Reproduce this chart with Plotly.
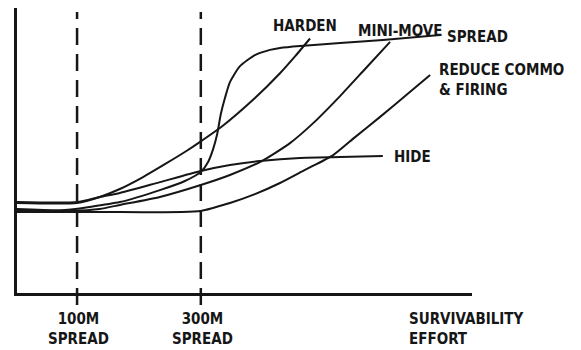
import plotly.graph_objects as go

# Survivability (0-100) versus survivability effort (0-100) for each measure
harden_x = [0, 13.2, 18.2, 22.6, 27.7, 32.5, 37.4, 40.4, 45.1, 52.3, 57.8, 61.1, 64.4]
harden_y = [31.6, 31.6, 33.7, 36.5, 40.7, 45.2, 50.0, 53.2, 58.5, 68.4, 77.1, 83.0, 89.3]

hide_x = [0, 13.2, 18.2, 22.6, 31.4, 40.4, 46.8, 53.4, 62.2, 71.0, 80.4]
hide_y = [31.9, 31.9, 33.7, 35.1, 38.9, 42.8, 44.9, 46.3, 47.4, 47.7, 48.1]

spread_x = [0, 10.5, 16.0, 22.6, 31.4, 36.9, 40.4, 42.0, 43.1, 44.0, 44.8,
            45.7, 46.8, 49.0, 52.3, 55.6, 57.8, 62.2, 71.0, 80.4, 93.0]
spread_y = [29.5, 29.1, 30.2, 31.9, 36.1, 39.3, 42.5, 46.0, 50.5, 55.8, 62.8,
            68.4, 74.0, 79.6, 83.5, 85.3, 86.0, 86.7, 87.7, 88.8, 90.5]

minimove_x = [0, 11.6, 18.2, 22.6, 31.4, 40.4, 46.8, 53.8, 60.0, 65.1, 71.0, 76.5, 82.0]
minimove_y = [28.8, 28.8, 29.5, 30.9, 33.7, 37.9, 41.4, 46.3, 52.6, 59.6, 69.1, 78.6, 88.1]

reduce_x = [0, 18.2, 40.4, 46.8, 52.3, 57.8, 63.3, 69.5, 74.3, 79.8, 85.3, 90.8]
reduce_y = [28.4, 28.4, 28.8, 31.6, 34.7, 38.6, 43.2, 48.4, 54.7, 61.8, 69.1, 76.5]

series = [
    ("HARDEN", harden_x, harden_y),
    ("HIDE", hide_x, hide_y),
    ("SPREAD", spread_x, spread_y),
    ("MINI-MOVE", minimove_x, minimove_y),
    ("REDUCE COMMO & FIRING", reduce_x, reduce_y),
]

# Reference spreads marked along the effort axis
spread_marks = [13.2, 40.4]
spread_mark_labels = ["100M<br>SPREAD", "300M<br>SPREAD"]

ink = "#161616"
font_stack = "Liberation Sans Narrow, DejaVu Sans Condensed, Arial Narrow, Liberation Sans, Arial, sans-serif"
label_font = dict(family=font_stack, size=15, color=ink, weight="bold")

fig = go.Figure()

for name, xs, ys in series:
    fig.add_trace(go.Scatter(
        x=xs, y=ys, mode="lines", name=name,
        line=dict(color=ink, width=2, shape="spline", smoothing=0.6),
        hoverinfo="name", showlegend=False,
    ))

# Dashed verticals at the spread distances, running through the effort axis
for xv in spread_marks:
    fig.add_shape(type="line", xref="x", yref="paper",
                  x0=xv, x1=xv, y0=-0.042, y1=0.986,
                  line=dict(color=ink, width=2.5, dash="17px,9px"))

annotations = [
    # curve labels
    dict(x=63.3, y=93.6, text="HARDEN", xanchor="center", yref="y"),
    dict(x=84.2, y=92.0, text="MINI-MOVE", xanchor="center", yref="y"),
    dict(x=94.0, y=89.8, text="SPREAD", xanchor="left", yref="y"),
    dict(x=92.3, y=74.7, text="REDUCE COMMO<br>& FIRING", xanchor="left", align="left", yref="y"),
    dict(x=82.4, y=47.7, text="HIDE", xanchor="left", yref="y"),
    # axis title below the effort axis
    dict(x=85.7, y=-0.125, text="SURVIVABILITY<br>EFFORT", xanchor="left", align="left", yref="paper"),
]
for xv, lab in zip(spread_marks, spread_mark_labels):
    annotations.append(dict(x=xv + 0.3, y=-0.125, text=lab, xanchor="center",
                            align="center", yref="paper"))

for a in annotations:
    a.update(xref="x", showarrow=False, yanchor="middle", font=label_font)

fig.update_layout(
    width=581, height=350,
    margin=dict(l=17, r=109, t=8, b=57),
    paper_bgcolor="white", plot_bgcolor="white",
    annotations=annotations,
    xaxis=dict(range=[0, 100], showgrid=False, zeroline=False, showticklabels=False,
               ticks="", showline=True, linecolor=ink, linewidth=2.5),
    yaxis=dict(range=[0, 100], showgrid=False, zeroline=False, showticklabels=False,
               ticks="", showline=True, linecolor=ink, linewidth=2.5),
)

fig.write_html("out.html")
